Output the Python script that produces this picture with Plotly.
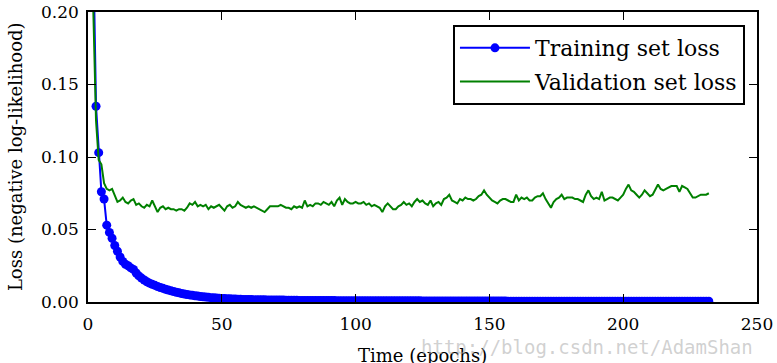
import plotly.graph_objects as go

# epochs 1..232
epochs = list(range(1, 233))

# training set loss
train_loss = [
    0.50, 0.24, 0.135, 0.103, 0.076, 0.071, 0.053, 0.048, 0.044, 0.039,
    0.035, 0.031, 0.028, 0.026, 0.025, 0.0235, 0.0225, 0.020, 0.018, 0.0165,
    0.0152, 0.014, 0.013, 0.0122, 0.0115, 0.0107, 0.010, 0.0094, 0.0088, 0.0082,
    0.0077, 0.0072, 0.0067, 0.0063, 0.0059, 0.0055, 0.0052, 0.0049, 0.0046, 0.0043,
    0.0041, 0.0038, 0.0036, 0.0034, 0.0032, 0.0030, 0.0029, 0.0027, 0.0026, 0.0025,
    0.0024, 0.0023, 0.0022, 0.0021, 0.0020, 0.0019, 0.0019, 0.0018, 0.0018, 0.0017,
    0.0017, 0.0016, 0.0016, 0.0015, 0.0015, 0.0015, 0.0014, 0.0014, 0.0014, 0.0013,
    0.0013, 0.0013, 0.0013, 0.0012, 0.0012, 0.0012, 0.0012, 0.0012, 0.0011, 0.0011,
    0.0011, 0.0011, 0.0011, 0.0011, 0.0010, 0.0010, 0.0010, 0.0010, 0.0010, 0.0010,
    0.0010, 0.0010, 0.0009, 0.0009, 0.0009, 0.0009, 0.0009, 0.0009, 0.0009, 0.0009,
    0.0009, 0.0009, 0.0009, 0.0009, 0.0008, 0.0008, 0.0008, 0.0008, 0.0008, 0.0008,
    0.0008, 0.0008, 0.0008, 0.0008, 0.0008, 0.0008, 0.0008, 0.0008, 0.0008, 0.0008,
    0.0008, 0.0008, 0.0008, 0.0008, 0.0007, 0.0007, 0.0007, 0.0007, 0.0007, 0.0007,
    0.0007, 0.0007, 0.0007, 0.0007, 0.0007, 0.0007, 0.0007, 0.0007, 0.0007, 0.0007,
    0.0007, 0.0007, 0.0007, 0.0007, 0.0007, 0.0007, 0.0007, 0.0007, 0.0007, 0.0007,
    0.0007, 0.0007, 0.0007, 0.0007, 0.0007, 0.0007, 0.0006, 0.0006, 0.0006, 0.0006,
    0.0006, 0.0006, 0.0006, 0.0006, 0.0006, 0.0006, 0.0006, 0.0006, 0.0006, 0.0006,
    0.0006, 0.0006, 0.0006, 0.0006, 0.0006, 0.0006, 0.0006, 0.0006, 0.0006, 0.0006,
    0.0006, 0.0006, 0.0006, 0.0006, 0.0006, 0.0006, 0.0006, 0.0006, 0.0006, 0.0006,
    0.0006, 0.0006, 0.0006, 0.0006, 0.0006, 0.0006, 0.0006, 0.0006, 0.0006, 0.0006,
    0.0006, 0.0006, 0.0006, 0.0006, 0.0006, 0.0006, 0.0006, 0.0006, 0.0006, 0.0006,
    0.0006, 0.0006, 0.0006, 0.0006, 0.0006, 0.0006, 0.0006, 0.0006, 0.0006, 0.0006,
    0.0006, 0.0006, 0.0006, 0.0006, 0.0006, 0.0006, 0.0006, 0.0006, 0.0006, 0.0006,
    0.0006, 0.0006,
]

# validation set loss
valid_loss = [
    0.45, 0.20, 0.125, 0.098, 0.095, 0.082, 0.078, 0.077, 0.078, 0.074,
    0.069, 0.070, 0.072, 0.069, 0.068, 0.070, 0.071, 0.067, 0.068, 0.066,
    0.065, 0.067, 0.066, 0.070, 0.066, 0.062, 0.065, 0.066, 0.064, 0.065,
    0.064, 0.064, 0.063, 0.064, 0.064, 0.063, 0.065, 0.068, 0.067, 0.069,
    0.066, 0.067, 0.066, 0.067, 0.064, 0.066, 0.065, 0.066, 0.067, 0.065,
    0.063, 0.066, 0.067, 0.065, 0.066, 0.069, 0.067, 0.066, 0.065, 0.066,
    0.065, 0.066, 0.065, 0.064, 0.063, 0.062, 0.064, 0.066, 0.066, 0.066,
    0.066, 0.067, 0.066, 0.065, 0.065, 0.064, 0.066, 0.065, 0.066, 0.065,
    0.070, 0.066, 0.067, 0.066, 0.068, 0.068, 0.067, 0.069, 0.068, 0.067,
    0.069, 0.066, 0.070, 0.072, 0.067, 0.071, 0.069, 0.068, 0.068, 0.069,
    0.068, 0.068, 0.069, 0.067, 0.068, 0.066, 0.067, 0.066, 0.065, 0.062,
    0.066, 0.068, 0.066, 0.064, 0.064, 0.066, 0.067, 0.069, 0.067, 0.068,
    0.066, 0.069, 0.071, 0.069, 0.070, 0.068, 0.067, 0.070, 0.066, 0.068,
    0.069, 0.067, 0.071, 0.072, 0.074, 0.070, 0.069, 0.068, 0.071, 0.070,
    0.072, 0.071, 0.071, 0.070, 0.071, 0.073, 0.074, 0.077, 0.074, 0.072,
    0.070, 0.069, 0.068, 0.070, 0.071, 0.071, 0.070, 0.069, 0.069, 0.074,
    0.070, 0.072, 0.071, 0.072, 0.070, 0.070, 0.072, 0.073, 0.073, 0.075,
    0.071, 0.068, 0.065, 0.069, 0.071, 0.072, 0.074, 0.071, 0.072, 0.072,
    0.072, 0.071, 0.071, 0.070, 0.069, 0.074, 0.077, 0.073, 0.071, 0.072,
    0.071, 0.076, 0.070, 0.071, 0.072, 0.072, 0.071, 0.070, 0.072, 0.074,
    0.078, 0.081, 0.077, 0.076, 0.074, 0.072, 0.074, 0.077, 0.075, 0.073,
    0.074, 0.078, 0.081, 0.078, 0.077, 0.078, 0.079, 0.080, 0.080, 0.080,
    0.076, 0.080, 0.079, 0.078, 0.075, 0.072, 0.072, 0.073, 0.074, 0.074,
    0.074, 0.075,
]

x_ticks = [0, 50, 100, 150, 200, 250]
y_ticks = [0.00, 0.05, 0.10, 0.15, 0.20]
y_tick_labels = ["0.00", "0.05", "0.10", "0.15", "0.20"]

serif = "DejaVu Serif"

fig = go.Figure()
fig.add_trace(go.Scatter(
    x=epochs, y=train_loss, mode="lines+markers", name="Training set loss",
    line=dict(color="#0000ff", width=2),
    marker=dict(color="#0000ff", size=9),
    legendgroup="a"))
fig.add_trace(go.Scatter(
    x=epochs, y=valid_loss, mode="lines", name="Validation set loss",
    line=dict(color="#008000", width=2),
    legendgroup="b"))

axis_common = dict(
    showgrid=False, zeroline=False, automargin=False,
    showline=True, linecolor="black", linewidth=1.5, mirror="ticks",
    ticks="inside", ticklen=8, tickwidth=1, tickcolor="black",
    tickfont=dict(family=serif, size=17, color="black"),
    ticklabeloverflow="allow",
)

fig.update_xaxes(range=[0, 250], tickvals=x_ticks, ticklabelstandoff=6, **axis_common)
fig.update_yaxes(range=[0, 0.2], tickvals=y_ticks, ticktext=y_tick_labels,
                 ticklabelstandoff=4, **axis_common)

fig.update_layout(
    width=777, height=363,
    margin=dict(l=88, r=20, t=12, b=61),
    paper_bgcolor="white", plot_bgcolor="white",
    showlegend=True,
    legend=dict(x=0.982, y=0.955, xanchor="right", yanchor="top",
                bgcolor="white", bordercolor="black", borderwidth=2,
                font=dict(family=serif, size=22, color="black"),
                itemwidth=70, tracegroupgap=2),
)

# axis titles
fig.add_annotation(text="Time (epochs)", xref="paper", yref="paper",
                   x=0.5, y=-0.183, xanchor="center", yanchor="middle", showarrow=False,
                   font=dict(family=serif, size=18, color="black"))
fig.add_annotation(text="Loss (negative log-likelihood)", xref="paper", yref="paper",
                   x=-0.109, y=0.5, xanchor="center", yanchor="middle", textangle=-90,
                   showarrow=False, font=dict(family=serif, size=18, color="black"))

# csdn watermark
fig.add_annotation(text="http://blog.csdn.net/AdamShan", xref="paper", yref="paper",
                   x=0.997, y=-0.155, xanchor="right", yanchor="middle", showarrow=False,
                   font=dict(family="DejaVu Sans Mono", size=19, color="rgba(170,170,170,0.55)"))

# drop the page's default body margin so the figure sits at the window's corner
fig.write_html("out.html", config={"displayModeBar": False},
               post_script="document.body.style.margin='0';")
